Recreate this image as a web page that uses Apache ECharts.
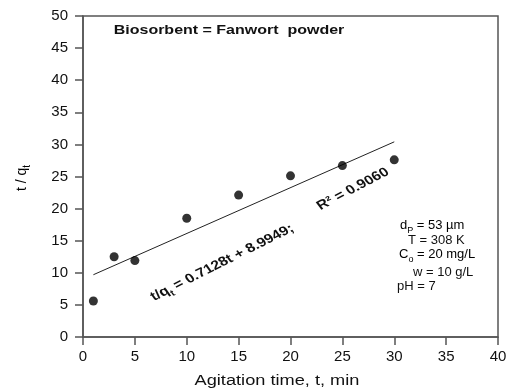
<!DOCTYPE html>
<html>
<head>
<meta charset="utf-8">
<script src="https://cdn.jsdelivr.net/npm/echarts@6/dist/echarts.min.js"></script>
<style>html,body{margin:0;padding:0;background:#fff}#c{width:510px;height:390px}</style>
</head>
<body>
<div id="c"></div>
<script>
// Data
const agitationTime = [1, 3, 5, 10, 15, 20, 25, 30];
const tOverQt = [5.6, 12.5, 11.9, 18.5, 22.1, 25.1, 26.7, 27.6];
const fitTime = [1, 30];
const fitValue = [9.7, 30.4];
const xTicks = [0, 5, 10, 15, 20, 25, 30, 35, 40];
const yTicks = [0, 5, 10, 15, 20, 25, 30, 35, 40, 45, 50];

const FONT = 'Liberation Sans, Arial, sans-serif';
const TXT = '#111';
const chart = echarts.init(document.getElementById('c'), null, {renderer: 'canvas'});

const subRich = (size, weight) => ({
  m: {fontSize: size, fontFamily: FONT, fontWeight: weight || 'normal', color: TXT, lineHeight: size + 3, verticalAlign: 'top'},
  s: {fontSize: size - 4, fontFamily: FONT, fontWeight: weight || 'normal', color: TXT, lineHeight: size + 1, verticalAlign: 'bottom'}
});

// text stretched horizontally (page-wide x stretch), optionally rotated inside
function stretched(x, y, sx, rotDeg, style) {
  return {
    type: 'group', x: x, y: y, scaleX: sx, scaleY: 1,
    children: [{type: 'text', x: 0, y: 0, rotation: rotDeg * Math.PI / 180,
      style: Object.assign({align: 'center', verticalAlign: 'middle', fill: TXT}, style)}]
  };
}

const option = {
  backgroundColor: '#fff',
  animation: false,
  grid: {left: 83, top: 16, right: 12, bottom: 53, show: true, borderColor: '#555', borderWidth: 1.5, backgroundColor: 'transparent'},
  xAxis: {
    type: 'value', min: 0, max: 40, interval: 5,
    axisLine: {show: true, lineStyle: {color: '#555', width: 1.5}},
    axisTick: {show: true, inside: false, length: 8, lineStyle: {color: '#555', width: 1.5}},
    axisLabel: {color: TXT, fontSize: 15, fontFamily: FONT, margin: 12,
      formatter: v => xTicks.includes(v) ? String(v) : ''},
    splitLine: {show: false}
  },
  yAxis: {
    type: 'value', min: 0, max: 50, interval: 5,
    axisLine: {show: true, lineStyle: {color: '#555', width: 1.5}},
    axisTick: {show: true, inside: false, length: 8, lineStyle: {color: '#555', width: 1.5}},
    axisLabel: {color: TXT, fontSize: 15, fontFamily: FONT, margin: 15,
      formatter: v => yTicks.includes(v) ? String(v) : ''},
    splitLine: {show: false}
  },
  series: [
    {
      type: 'line',
      data: fitTime.map((t, i) => [t, fitValue[i]]),
      symbol: 'none',
      lineStyle: {color: '#222', width: 1},
      z: 2
    },
    {
      type: 'scatter',
      data: agitationTime.map((t, i) => [t, tOverQt[i]]),
      symbol: 'circle',
      symbolSize: 9,
      itemStyle: {color: '#000'},
      z: 3
    }
  ],
  graphic: [
    stretched(229, 30, 1.23, 0, {text: 'Biosorbent = Fanwort  powder', font: 'bold 13px ' + FONT}),
    stretched(277, 381, 1.3, 0, {text: 'Agitation time, t, min', font: '14px ' + FONT}),
    {type: 'text', x: 24, y: 178, rotation: Math.PI / 2,
      style: {text: '{m|t / q}{s|t}', rich: subRich(14), align: 'center', verticalAlign: 'middle'}},
    stretched(223, 264, 1.2, 31, {text: '{m|t/q}{s|t}{m| = 0.7128t + 8.9949;}', rich: subRich(13, 'bold')}),
    stretched(353, 189, 1.2, 32, {text: 'R² = 0.9060', font: 'bold 13px ' + FONT}),
    {type: 'text', x: 400, y: 219, style: {text: '{m|d}{s|P}{m| = 53 µm}', rich: subRich(13)}},
    {type: 'text', x: 408, y: 234, style: {text: 'T = 308 K', font: '13px ' + FONT, fill: TXT}},
    {type: 'text', x: 399, y: 248, style: {text: '{m|C}{s|o}{m| = 20 mg/L}', rich: subRich(13)}},
    {type: 'text', x: 413, y: 266, style: {text: 'w = 10 g/L', font: '13px ' + FONT, fill: TXT}},
    {type: 'text', x: 397, y: 280, style: {text: 'pH = 7', font: '13px ' + FONT, fill: TXT}}
  ]
};
chart.setOption(option);
</script>
</body>
</html>
